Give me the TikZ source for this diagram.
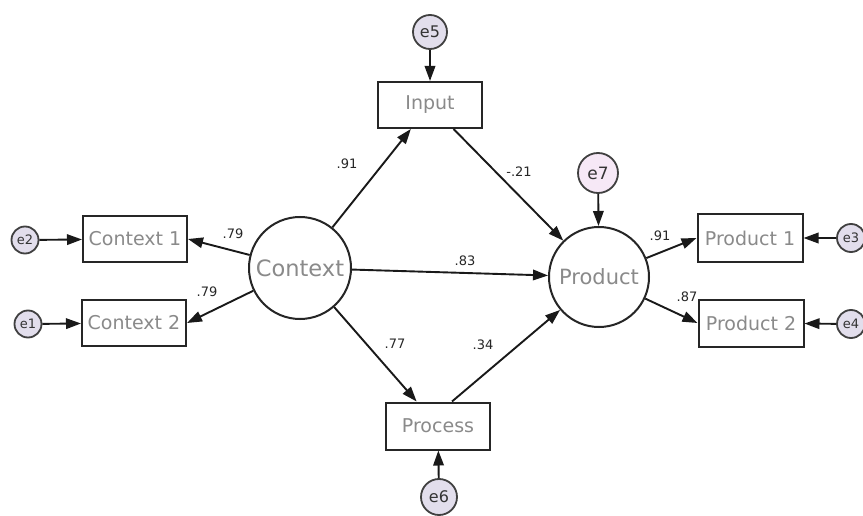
\documentclass[tikz,border=0pt]{standalone}
\usepackage{fontspec}
\setmainfont{DejaVu Sans}
\usetikzlibrary{arrows.meta}
\definecolor{errfill}{HTML}{E2DEEC}
\definecolor{efill7}{HTML}{F6E8F6}
\definecolor{txtgray}{HTML}{8A8A8A}
\tikzset{
  obsbox/.style={draw=black!85, line width=2pt, minimum width=104pt, minimum height=46pt, inner sep=0pt, text=txtgray, font=\fontsize{19}{21}\selectfont},
  latent/.style={circle, draw=black!85, line width=2pt, inner sep=0pt, text=txtgray},
  errc/.style={circle, draw=black!75, line width=1.8pt, fill=errfill, inner sep=0pt, text=black!80},
  reg/.style={-{Triangle[length=15pt,width=10.5pt]}, line width=1.9pt, black!90},
  coef/.style={font=\fontsize{13}{14}\selectfont, text=black!85, inner sep=0pt}
}
\begin{document}
\begin{tikzpicture}[x=1pt,y=-1pt]
\useasboundingbox (0,0) rectangle (863,516);
\fill[white] (0,0) rectangle (863,516);
% latent variables
\node[latent, minimum size=102pt, font=\fontsize{22.5}{24}\selectfont] (ctx) at (300,268) {Context};
\node[latent, minimum size=100pt, font=\fontsize{21}{23}\selectfont] (prod) at (599,277) {Product};
% observed boxes
\node[obsbox] (input) at (430,105) {Input};
\node[obsbox, minimum height=47pt] (process) at (438,426) {Process};
\node[obsbox] (c1) at (135,239) {Context 1};
\node[obsbox] (c2) at (134,323) {Context 2};
\node[obsbox, minimum width=105pt, minimum height=47pt] (p1) at (750,238) {Product 1};
\node[obsbox, minimum width=105pt, minimum height=47pt] (p2) at (751,323) {Product 2};
% error terms
\node[errc, minimum size=34pt, font=\fontsize{16}{17}\selectfont] (e5) at (430,32) {e5};
\node[errc, minimum size=36pt, font=\fontsize{16}{17}\selectfont] (e6) at (439,497) {e6};
\node[errc, fill=efill7, minimum size=40pt, font=\fontsize{17}{18}\selectfont] (e7) at (598,173) {e7};
\node[errc, minimum size=27pt, font=\fontsize{13}{14}\selectfont] (e2) at (25,240) {e2};
\node[errc, minimum size=27pt, font=\fontsize{13}{14}\selectfont] (e1) at (28,324) {e1};
\node[errc, minimum size=28pt, font=\fontsize{13}{14}\selectfont] (e3) at (851,238) {e3};
\node[errc, minimum size=28pt, font=\fontsize{13}{14}\selectfont] (e4) at (851,324) {e4};
% error arrows
\draw[reg] (e5) -- (input);
\draw[reg] (e6) -- (process);
\draw[reg] (e7) -- (prod);
\draw[reg] (e2) -- (c1);
\draw[reg] (e1) -- (c2);
\draw[reg] (e3) -- (p1);
\draw[reg] (e4) -- (p2);
% structural paths
\draw[reg] (ctx) -- (c1.east);
\draw[reg] (ctx) -- (c2.east);
\draw[reg] (ctx) -- (input);
\draw[reg] (ctx) -- (prod);
\draw[reg] (ctx) -- (process);
\draw[reg] (input) -- (prod);
\coordinate (procout) at ([xshift=14pt]process.north);
\draw[reg] (procout) -- (prod);
\draw[reg] (prod) -- (p1.west);
\draw[reg] (prod) -- (p2.west);
% coefficients
\node[coef] (k1) at (233,234) {.79};
\node[coef] (k2) at (207,292) {.79};
\node[coef] (k3) at (347,164) {.91};
\node[coef] (k4) at (519,172) {-.21};
\node[coef] (k5) at (465,261) {.83};
\node[coef] (k6) at (395,344) {.77};
\node[coef] (k7) at (483,345) {.34};
\node[coef] (k8) at (660,236) {.91};
\node[coef] (k9) at (687,297) {.87};
\end{tikzpicture}
\end{document}
